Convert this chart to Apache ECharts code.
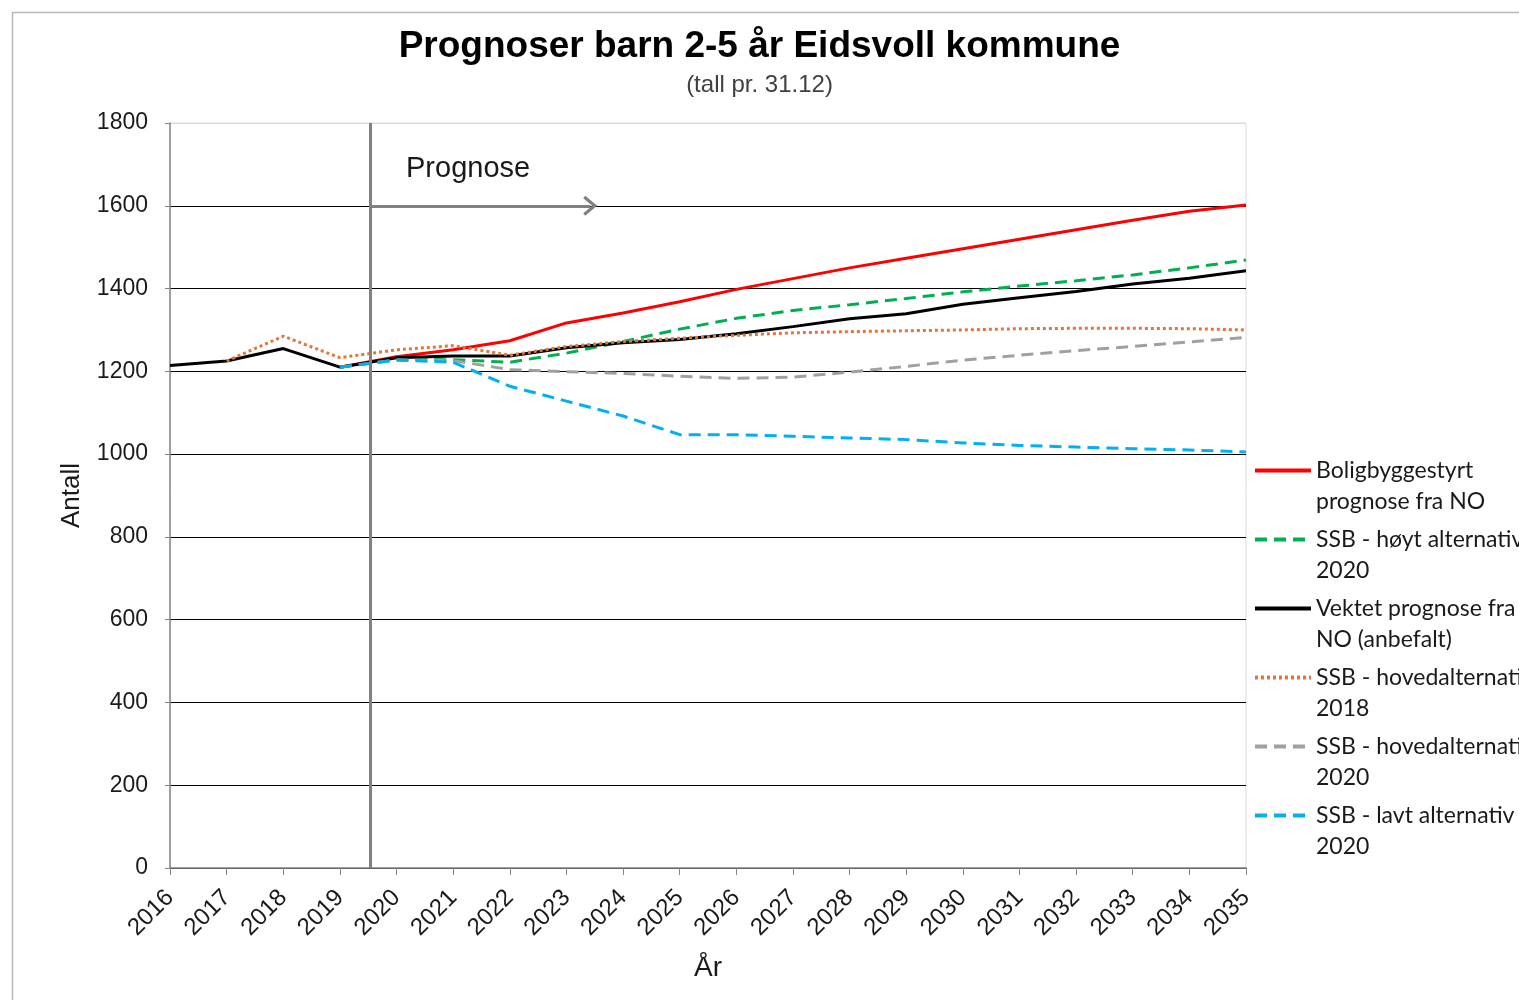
<!DOCTYPE html>
<html>
<head>
<meta charset="utf-8">
<script src="https://cdn.jsdelivr.net/npm/echarts@6/dist/echarts.min.js"></script>
<style>
  html, body { margin: 0; padding: 0; background: #fff; }
  #main { width: 1519px; height: 1000px; }
</style>
</head>
<body>
<div id="main"></div>
<script>
// år på x-aksen
var years = [2016, 2017, 2018, 2019, 2020, 2021, 2022, 2023, 2024, 2025,
             2026, 2027, 2028, 2029, 2030, 2031, 2032, 2033, 2034, 2035];
var yTicks = [0, 200, 400, 600, 800, 1000, 1200, 1400, 1600, 1800];

// serier
var boligbyggestyrt = [null, null, null, 1210, 1235, 1252, 1274, 1317, 1341, 1368,
                       1398, 1424, 1450, 1473, 1496, 1519, 1542, 1565, 1587, 1602];
var ssbHoyt2020     = [null, null, null, 1210, 1230, 1228, 1222, 1244, 1272, 1302,
                       1328, 1347, 1361, 1376, 1392, 1406, 1419, 1433, 1450, 1469];
var vektet          = [1214, 1225, 1255, 1210, 1233, 1237, 1237, 1257, 1269, 1277,
                       1291, 1308, 1327, 1339, 1362, 1378, 1393, 1411, 1425, 1443];
var ssbHoved2018    = [null, 1225, 1285, 1233, 1252, 1262, 1239, 1260, 1272, 1280,
                       1287, 1293, 1296, 1298, 1300, 1303, 1304, 1304, 1303, 1300];
var ssbHoved2020    = [null, null, null, 1210, 1228, 1226, 1204, 1199, 1195, 1188,
                       1183, 1186, 1198, 1212, 1227, 1239, 1250, 1260, 1271, 1282];
var ssbLavt2020     = [null, null, null, 1210, 1227, 1222, 1164, 1128, 1092, 1047,
                       1047, 1043, 1039, 1035, 1027, 1021, 1017, 1013, 1010, 1005];

var prognoseStart = 2019.53;   // loddrett strek
var arrowEnd = 2023.42;        // pil "Prognose"
var arrowLevel = 1600;

// tom første linje slik at ikonet står ved første tekstlinje
var legendText = {
  'Boligbyggestyrt prognose fra NO': '\nBoligbyggestyrt\nprognose fra NO',
  'SSB - høyt alternativ 2020': '\nSSB - høyt alternativ\n2020',
  'Vektet prognose fra NO (anbefalt)': '\nVektet prognose fra\nNO (anbefalt)',
  'SSB - hovedalternativ 2018': '\nSSB - hovedalternativ\n2018',
  'SSB - hovedalternativ 2020': '\nSSB - hovedalternativ\n2020',
  'SSB - lavt alternativ 2020': '\nSSB - lavt alternativ\n2020'
};

function pairs(vals) {
  return years.map(function (y, i) { return [y, vals[i]]; });
}

function lineSeries(name, vals, color, type) {
  return {
    name: name,
    type: 'line',
    data: pairs(vals),
    symbol: 'none',
    connectNulls: false,
    lineStyle: { color: color, width: 3, type: type },
    itemStyle: { color: color }
  };
}

var chart = echarts.init(document.getElementById('main'));

var series = [
  lineSeries('Boligbyggestyrt prognose fra NO', boligbyggestyrt, '#ff0000', 'solid'),
  lineSeries('SSB - høyt alternativ 2020', ssbHoyt2020, '#00b050', [12, 7]),
  lineSeries('Vektet prognose fra NO (anbefalt)', vektet, '#000000', 'solid'),
  lineSeries('SSB - hovedalternativ 2018', ssbHoved2018, '#e2763a', [3, 3]),
  lineSeries('SSB - hovedalternativ 2020', ssbHoved2020, '#a0a0a0', [12, 7]),
  lineSeries('SSB - lavt alternativ 2020', ssbLavt2020, '#00b0f0', [12, 7])
];

// loddrett strek ved prognosestart
series[0].markLine = {
  silent: true,
  symbol: 'none',
  label: { show: false },
  lineStyle: { color: '#808080', width: 3, type: 'solid' },
  data: [{ xAxis: prognoseStart }]
};
// pil
series[2].markLine = {
  silent: true,
  symbol: ['none', 'path://M0,12 L10,0 L20,12 L17.5,14 L10,5 L2.5,14 Z'],
  symbolSize: [20, 14],
  label: { show: false },
  lineStyle: { color: '#808080', width: 3, type: 'solid' },
  data: [[{ coord: [prognoseStart, arrowLevel] }, { coord: [arrowEnd, arrowLevel] }]]
};

// rutenett: øverste linje lys grå
var splitColors = yTicks.map(function (t, i) { return i === yTicks.length - 1 ? '#d9d9d9' : '#000000'; });

chart.setOption({
  animation: false,
  backgroundColor: '#ffffff',
  title: [
    {
      text: 'Prognoser barn 2-5 år Eidsvoll kommune',
      left: 'center',
      top: 23,
      textStyle: { fontFamily: 'Liberation Sans', fontWeight: 'bold', fontSize: 37, color: '#000' }
    },
    {
      text: '(tall pr. 31.12)',
      left: 'center',
      top: 68,
      textStyle: { fontFamily: 'Liberation Sans', fontWeight: 'normal', fontSize: 24, color: '#404040' }
    }
  ],
  graphic: [
    {
      type: 'rect',
      left: 10, top: 10,
      shape: { width: 1600, height: 1100 },
      style: { fill: 'none', stroke: '#b8b8b8', lineWidth: 1.5 },
      silent: true
    },
    {
      type: 'text',
      left: 406, top: 154,
      style: { text: 'Prognose', fontFamily: 'Liberation Sans', fontSize: 29, fill: '#1a1a1a' },
      silent: true
    }
  ],
  legend: {
    orient: 'vertical',
    left: 1248,
    top: 419,
    itemWidth: 56,
    itemHeight: 14,
    itemGap: -24,
    itemStyle: { opacity: 0 },
    lineStyle: { width: 4 },
    selectedMode: false,
    formatter: function (name) { return legendText[name]; },
    textStyle: {
      fontFamily: 'Lato',
      fontSize: 23,
      lineHeight: 31,
      color: '#1a1a1a'
    },
    data: series.map(function (s) { return s.name; })
  },
  grid: {
    left: 170, right: 273, top: 123, bottom: 132,
    show: true,
    borderColor: '#d9d9d9',
    borderWidth: 1
  },
  xAxis: {
    type: 'value',
    min: years[0],
    max: years[years.length - 1],
    interval: 1,
    name: 'År',
    nameLocation: 'middle',
    nameGap: 86,
    nameTextStyle: { fontFamily: 'Liberation Sans', fontSize: 28, color: '#1a1a1a' },
    axisLine: { show: true, onZero: false, lineStyle: { color: '#868686', width: 1.5 } },
    axisTick: { show: true, length: 7, lineStyle: { color: '#868686' } },
    splitLine: { show: false },
    axisLabel: {
      rotate: 45,
      margin: 26,
      fontFamily: 'Liberation Sans',
      fontSize: 24,
      color: '#1a1a1a',
      formatter: function (v) { return String(v); }
    }
  },
  yAxis: {
    type: 'value',
    min: yTicks[0],
    max: yTicks[yTicks.length - 1],
    interval: 200,
    name: 'Antall',
    nameLocation: 'middle',
    nameGap: 85,
    nameRotate: 90,
    nameTextStyle: { fontFamily: 'Liberation Sans', fontSize: 26, color: '#1a1a1a' },
    axisLine: { show: true, lineStyle: { color: '#868686', width: 1.5 } },
    axisTick: { show: true, length: 5, lineStyle: { color: '#868686' } },
    splitLine: { show: true, lineStyle: { color: splitColors, width: 1 } },
    axisLabel: {
      margin: 22,
      fontFamily: 'Liberation Sans',
      fontSize: 23,
      color: '#1a1a1a',
      formatter: function (v) { return String(v); }
    }
  },
  series: series
});
</script>
</body>
</html>
